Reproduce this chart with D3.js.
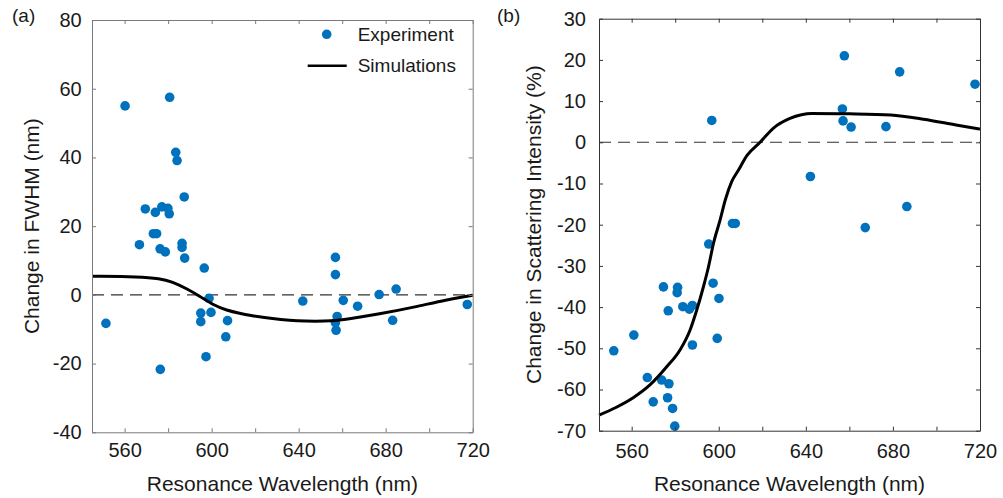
<!DOCTYPE html>
<html>
<head>
<meta charset="utf-8">
<script src="https://cdn.jsdelivr.net/npm/d3@7"></script>
<style>
body { margin: 0; background: #fff; }
svg { display: block; font-family: Arial, "Liberation Sans", sans-serif; }
</style>
</head>
<body>
<svg width="1003" height="498"></svg>
<script>
// shared x axis (resonance wavelength, nm)
const xDomain = [545, 720];
const xTicks = [560, 580, 600, 620, 640, 660, 680, 700, 720];

// (a) change in FWHM
const fwhmTicks = [-40, -20, 0, 20, 40, 60, 80];
const fwhmExpX = [551.4, 560.2, 566.8, 569.5, 573.2, 574.7, 574.1, 576.3, 576.4, 577.1,
    578.7, 579.9, 580.5, 580.7, 583.5, 584.1, 586.4, 586.4, 587.4, 587.6,
    595.0, 595.0, 596.6, 597.4, 598.8, 599.7, 606.5, 607.3, 641.9, 656.9,
    656.9, 657.7, 656.9, 657.2, 660.5, 667.1, 677.0, 683.2, 684.8, 717.5];
const fwhmExpY = [-8.3, 55.0, 14.6, 25.0, 17.8, 17.8, 24.0, 13.4, -21.7, 25.6,
    12.5, 25.2, 23.6, 57.5, 41.5, 39.1, 15.0, 13.8, 28.5, 10.7,
    -5.3, -7.8, 7.8, -18.0, -1.0, -5.1, -12.2, -7.5, -1.8, 10.9,
    5.9, -6.3, -8.1, -10.3, -1.6, -3.3, 0.1, -7.4, 1.7, -2.8];
const fwhmSimX = [545, 567, 576, 582, 588.5, 594.6, 600.8, 606.9, 613, 618,
    624, 632, 639, 648, 655, 662, 677, 693, 708, 720];
const fwhmSimY = [5.4, 5.3, 4.8, 3.8, 1.8, -0.4, -3.0, -4.5, -5.4, -6.0,
    -6.6, -7.2, -7.6, -7.7, -7.6, -7.1, -5.6, -3.6, -1.4, -0.1];

// (b) change in scattering intensity
const scatTicks = [-70, -60, -50, -40, -30, -20, -10, 0, 10, 20, 30];
const scatExpX = [551.8, 561.0, 567.2, 569.9, 573.8, 574.6, 576.5, 576.8, 577.1, 578.8,
    579.8, 581.1, 580.9, 583.5, 586.5, 587.9, 587.9, 595.4, 596.8, 597.4,
    599.3, 600.1, 606.3, 607.6, 642.1, 656.8, 657.1, 657.7, 660.8, 667.3,
    676.8, 683.1, 686.4, 717.7];
const scatExpY = [-50.6, -46.8, -57.1, -63.0, -57.7, -35.1, -62.0, -40.9, -58.6, -64.6,
    -68.9, -35.2, -36.5, -39.9, -40.5, -39.6, -49.2, -24.7, 5.3, -34.2,
    -47.6, -37.9, -19.7, -19.7, -8.3, 8.1, 5.2, 21.0, 3.7, -20.7,
    3.8, 17.1, -15.6, 14.1];
const scatSimX = [545, 553, 560.7, 568.4, 576.1, 582.2, 586.8, 589.9, 593, 595.3,
    597.6, 600.6, 603, 606, 609, 613, 619, 625, 632.7, 638,
    642.7, 660, 679, 694, 709, 720];
const scatSimY = [-66.2, -64.3, -62.0, -58.9, -54.5, -50.4, -45.6, -40.7, -35.0, -30.2,
    -24.5, -18.9, -14.0, -9.5, -6.8, -3.2, 0, 3.4, 5.8, 6.7,
    7.0, 6.9, 6.6, 5.6, 4.2, 3.2];

const svg = d3.select("svg");
const blue = "#0072BD";

drawPanel({
    left: 92, right: 472.7, top: 20, bottom: 432.3,
    yDomain: [-40, 80], yTicks: fwhmTicks,
    expX: fwhmExpX, expY: fwhmExpY, simX: fwhmSimX, simY: fwhmSimY,
    curve: d3.curveBasis,
    axisColor: "#7a7a7a", xPad: 11, yPad: 10.3,
    tag: "(a)", tagX: 12, yTitle: "Change in FWHM (nm)", yTitleX: 38.5,
    legend: true
});

drawPanel({
    left: 599, right: 980, top: 18.7, bottom: 430.7,
    yDomain: [-70, 30], yTicks: scatTicks,
    expX: scatExpX, expY: scatExpY, simX: scatSimX, simY: scatSimY,
    curve: d3.curveMonotoneX,
    axisColor: "#333", xPad: 12.8, yPad: 13,
    tag: "(b)", tagX: 497, yTitle: "Change in Scattering Intensity (%)", yTitleX: 541,
    legend: false
});

function drawPanel(p) {
    const x = d3.scaleLinear().domain(xDomain).range([p.left, p.right]);
    const y = d3.scaleLinear().domain(p.yDomain).range([p.bottom, p.top]);
    const g = svg.append("g");

    // zero reference line
    g.append("line")
        .attr("x1", x(xDomain[0])).attr("x2", x(xDomain[1]))
        .attr("y1", y(0)).attr("y2", y(0))
        .attr("stroke", "#333")
        .attr("stroke-width", 1.1)
        .attr("stroke-dasharray", "12,7");

    // experiment dots
    g.append("g")
        .selectAll("circle")
        .data(p.expX.map((d, i) => [d, p.expY[i]]))
        .enter().append("circle")
        .attr("cx", d => x(d[0]))
        .attr("cy", d => y(d[1]))
        .attr("r", 4.8)
        .attr("fill", blue);

    // simulation curve
    const line = d3.line()
        .x(d => x(d[0]))
        .y(d => y(d[1]))
        .curve(p.curve);

    g.append("path")
        .datum(p.simX.map((d, i) => [d, p.simY[i]]))
        .attr("d", line)
        .attr("fill", "none")
        .attr("stroke", "#000")
        .attr("stroke-width", 3);

    // axes, ticks pointing inward on all four sides
    const styleAxis = sel => {
        sel.attr("color", p.axisColor)
            .attr("font-size", 20)
            .attr("font-family", "Arial, 'Liberation Sans', sans-serif");
        sel.selectAll("text").attr("fill", "#1a1a1a");
    };

    g.append("g")
        .attr("transform", `translate(0,${p.bottom})`)
        .call(d3.axisBottom(x).tickValues(xTicks).tickSize(-4).tickSizeOuter(0)
            .tickPadding(p.xPad).tickFormat(d => d % 40 === 0 ? String(d) : ""))
        .call(styleAxis);

    g.append("g")
        .attr("transform", `translate(0,${p.top})`)
        .call(d3.axisTop(x).tickValues(xTicks).tickSize(-4).tickSizeOuter(0).tickFormat(""))
        .call(styleAxis);

    g.append("g")
        .attr("transform", `translate(${p.left},0)`)
        .call(d3.axisLeft(y).tickValues(p.yTicks).tickSize(-4).tickSizeOuter(0)
            .tickPadding(p.yPad).tickFormat(d => String(d)))
        .call(styleAxis);

    g.append("g")
        .attr("transform", `translate(${p.right},0)`)
        .call(d3.axisRight(y).tickValues(p.yTicks).tickSize(-4).tickSizeOuter(0).tickFormat(""))
        .call(styleAxis);

    // titles
    g.append("text")
        .attr("x", (p.left + p.right) / 2)
        .attr("y", 491)
        .attr("text-anchor", "middle")
        .attr("font-size", 21)
        .attr("fill", "#1a1a1a")
        .text("Resonance Wavelength (nm)");

    g.append("text")
        .attr("transform", `translate(${p.yTitleX},${(p.top + p.bottom) / 2}) rotate(-90)`)
        .attr("text-anchor", "middle")
        .attr("font-size", 21)
        .attr("fill", "#1a1a1a")
        .text(p.yTitle);

    g.append("text")
        .attr("x", p.tagX)
        .attr("y", 22)
        .attr("font-size", 19)
        .attr("fill", "#1a1a1a")
        .text(p.tag);

    if (p.legend) {
        const lg = g.append("g").attr("font-size", 19).attr("fill", "#1a1a1a");
        lg.append("circle")
            .attr("cx", 326.7).attr("cy", 34.3).attr("r", 4.8).attr("fill", blue);
        lg.append("line")
            .attr("x1", 307.7).attr("x2", 346.7)
            .attr("y1", 65.7).attr("y2", 65.7)
            .attr("stroke", "#000").attr("stroke-width", 2.5);
        lg.append("text").attr("x", 357.7).attr("y", 34.3).attr("dy", "0.35em").text("Experiment");
        lg.append("text").attr("x", 357.7).attr("y", 65.7).attr("dy", "0.35em").text("Simulations");
    }
}
</script>
</body>
</html>
